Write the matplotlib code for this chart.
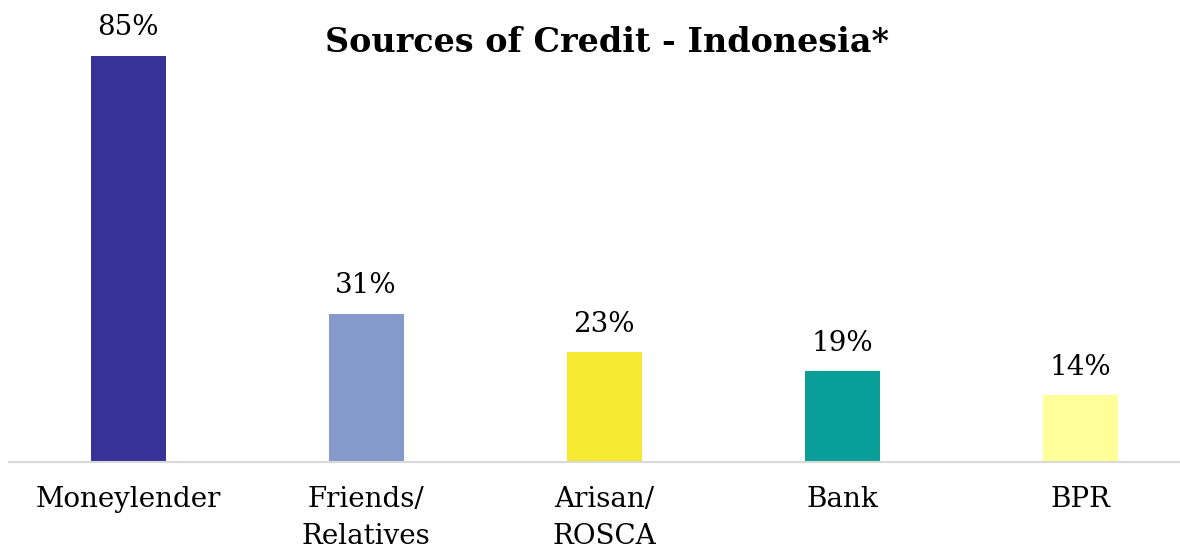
import numpy as np
import matplotlib.pyplot as plt

plt.rcParams['font.family'] = ['DejaVu Serif']

categories = ['Moneylender', 'Friends/\nRelatives', 'Arisan/\nROSCA', 'Bank', 'BPR']
values = [85, 31, 23, 19, 14]
colors = ['#363297', '#8599cb', '#f5e932', '#0a9e98', '#ffff99']

fig = plt.figure(figsize=(11.8, 5.48), dpi=100)
ax = fig.add_axes([9/1180, 1-462/548, 1171/1180, 462/548])

x = np.arange(len(categories))
ax.bar(x, values, width=75/238, color=colors)
for xi, v in zip(x, values):
    ax.text(xi, v + 3.0, str(v) + '%', ha='center', va='bottom', fontsize=20)

ax.set_xlim((9-128)/238, (1180-128)/238)
ax.set_ylim(0, 462/4.78)
ax.set_xticks(x)
ax.set_xticklabels(categories, fontsize=20, linespacing=1.5, va='top')
ax.tick_params(axis='x', length=0, pad=17)
ax.set_yticks([])
for s in ['top', 'right', 'left']:
    ax.spines[s].set_visible(False)
ax.spines['bottom'].set_color('#d9d9d9')
ax.spines['bottom'].set_linewidth(1.5)

fig.text(607/1180, 1-42/548, 'Sources of Credit - Indonesia*', ha='center', va='center',
         fontsize=24, fontweight='bold')

fig.savefig('out.png', dpi=100)
